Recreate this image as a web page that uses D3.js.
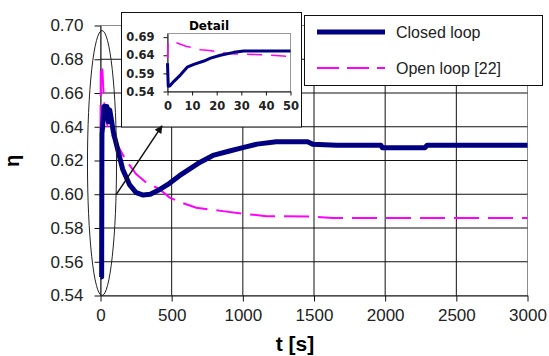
<!DOCTYPE html>
<html>
<head>
<meta charset="utf-8">
<script src="https://cdn.jsdelivr.net/npm/d3@7"></script>
<style>
body { margin: 0; background: #fff; }
svg { display: block; }
</style>
</head>
<body>
<svg id="chart" width="549" height="356"></svg>
<script>
const closedColor = '#000080';
const openColor = '#ff00ff';

// main chart: [t (s), eta]
const closedLoop = [[0,0.551],[8,0.551],[10,0.636],[15,0.640],[25,0.652],[45,0.652],[55,0.643],[65,0.650],[75,0.645],[90,0.637],
  [155,0.615],[205,0.6055],[250,0.601],[300,0.5995],[350,0.600],[420,0.603],[485,0.6065],[555,0.611],[700,0.619],[790,0.623],
  [900,0.6255],[1000,0.6276],[1100,0.6297],[1235,0.6311],[1455,0.6311],[1490,0.6297],[1660,0.6291],[1970,0.6291],[1980,0.6276],
  [2280,0.6276],[2295,0.6291],[3000,0.6291]];
const openLoop = [[0,0.638],[2,0.676],[12,0.676],[20,0.662],[30,0.650],[50,0.640],[100,0.632],[180,0.620],[250,0.612],[320,0.607],
  [415,0.603],[485,0.598],[570,0.595],[673,0.592],[860,0.590],[1000,0.5885],[1165,0.587],[1490,0.5868],[1630,0.586],[3000,0.586]];

// detail inset, first 50 s
const closedDetail = [[0,0.618],[0.3,0.5545],[1,0.556],[2.6,0.568],[5.3,0.586],[8,0.607],[10.7,0.615],[14.8,0.624],[17.5,0.632],
  [21.5,0.640],[27,0.648],[31,0.652],[50,0.652]];
const openDetail = [[0,0.632],[0.3,0.6755],[3.4,0.675],[7.5,0.665],[13.6,0.655],[17,0.653],[21.5,0.648],[25.6,0.644],[30,0.643],
  [40,0.641],[44,0.639],[50,0.636]];

const xTicks = [0, 500, 1000, 1500, 2000, 2500, 3000];
const yTicks = [0.54, 0.56, 0.58, 0.60, 0.62, 0.64, 0.66, 0.68, 0.70];
const detailXTicks = [0, 10, 20, 30, 40, 50];
const detailYTicks = [0.54, 0.59, 0.64, 0.69];
const legendLabels = ['Closed loop', 'Open loop [22]'];

const svg = d3.select('#chart');

const x = d3.scaleLinear().domain([0, 3000]).range([100.5, 527.5]);
const y = d3.scaleLinear().domain([0.54, 0.70]).range([295.5, 25.5]);

// plot area border
svg.append('rect')
    .attr('x', x(0)).attr('y', y(0.70))
    .attr('width', x(3000) - x(0)).attr('height', y(0.54) - y(0.70))
    .attr('fill', 'none').attr('stroke', '#8c8c8c');

// gridlines
svg.append('g').selectAll('line').data(yTicks.filter(d => d > 0.54 && d < 0.70)).join('line')
    .attr('x1', x(0)).attr('x2', x(3000))
    .attr('y1', d => y(d)).attr('y2', d => y(d))
    .attr('stroke', '#111');
svg.append('g').selectAll('line').data(xTicks.filter(d => d > 0 && d < 3000)).join('line')
    .attr('x1', d => x(d)).attr('x2', d => x(d))
    .attr('y1', y(0.70)).attr('y2', y(0.54))
    .attr('stroke', '#111');

// axes
const yAxis = svg.append('g').attr('transform', `translate(${x(0)},0)`)
    .call(d3.axisLeft(y).tickValues(yTicks).tickFormat(d3.format('.2f')).tickSize(6).tickSizeOuter(0).tickPadding(11));
const xAxis = svg.append('g').attr('transform', `translate(0,${y(0.54)})`)
    .call(d3.axisBottom(x).tickValues(xTicks).tickFormat(d3.format('d')).tickSize(6).tickSizeOuter(0).tickPadding(7));
[yAxis, xAxis].forEach(a => {
    a.selectAll('path, line').attr('stroke', '#111');
    a.selectAll('text').attr('font-family', 'Liberation Sans, Arial, sans-serif').attr('font-size', 17).attr('fill', '#222');
});

// axis titles
svg.append('text')
    .attr('transform', 'translate(18.5,161) rotate(-90)')
    .attr('text-anchor', 'middle')
    .attr('font-family', 'Liberation Sans, Arial, sans-serif')
    .attr('font-weight', 'bold').attr('font-size', 20)
    .text('η');
svg.append('text')
    .attr('x', 295).attr('y', 350.5)
    .attr('text-anchor', 'middle')
    .attr('font-family', 'Liberation Sans, Arial, sans-serif')
    .attr('font-weight', 'bold').attr('font-size', 21)
    .text('t [s]');

// series
const line = d3.line().x(d => x(d[0])).y(d => y(d[1]));
svg.append('path').datum(openLoop)
    .attr('d', line).attr('fill', 'none')
    .attr('stroke', openColor).attr('stroke-width', 2).attr('stroke-dasharray', '25,9');
svg.append('path').datum(closedLoop)
    .attr('d', line).attr('fill', 'none')
    .attr('stroke', closedColor).attr('stroke-width', 5).attr('stroke-linejoin', 'round');

// ellipse around the start
svg.append('ellipse')
    .attr('cx', x(10.5)).attr('cy', y(0.6185))
    .attr('rx', x(102) - x(0)).attr('ry', y(0.54) - y(0.6185))
    .attr('fill', 'none').attr('stroke', '#222').attr('stroke-width', 1);

// detail inset
const inset = svg.append('g');
inset.append('rect')
    .attr('x', 121.5).attr('y', 12.5).attr('width', 180).attr('height', 114.5)
    .attr('fill', '#fff').attr('stroke', '#111');

const ix = d3.scaleLinear().domain([0, 50]).range([167.5, 290.5]);
const iy = d3.scaleLinear().domain([0.54, 0.70]).range([91.5, 33.5]);

inset.append('rect')
    .attr('x', ix(0)).attr('y', iy(0.70))
    .attr('width', ix(50) - ix(0)).attr('height', iy(0.54) - iy(0.70))
    .attr('fill', 'none').attr('stroke', '#999');

const iyAxis = inset.append('g').attr('transform', `translate(${ix(0)},0)`)
    .call(d3.axisLeft(iy).tickValues(detailYTicks).tickFormat(d3.format('.2f')).tickSize(4).tickSizeOuter(0).tickPadding(9));
const ixAxis = inset.append('g').attr('transform', `translate(0,${iy(0.54)})`)
    .call(d3.axisBottom(ix).tickValues(detailXTicks).tickFormat(d3.format('d')).tickSize(4).tickSizeOuter(0).tickPadding(6));
[iyAxis, ixAxis].forEach(a => {
    a.selectAll('path, line').attr('stroke', '#111');
    a.selectAll('text').attr('font-family', 'DejaVu Sans, sans-serif').attr('font-weight', 'bold')
        .attr('font-size', 11.5).attr('fill', '#222');
});

inset.append('text')
    .attr('x', 209).attr('y', 30)
    .attr('text-anchor', 'middle')
    .attr('font-family', 'DejaVu Sans, sans-serif')
    .attr('font-weight', 'bold').attr('font-size', 12)
    .text('Detail');

const iline = d3.line().x(d => ix(d[0])).y(d => iy(d[1]));
inset.append('path').datum(openDetail)
    .attr('d', iline).attr('fill', 'none')
    .attr('stroke', openColor).attr('stroke-width', 1.5).attr('stroke-dasharray', '15,9');
inset.append('path').datum(closedDetail)
    .attr('d', iline).attr('fill', 'none')
    .attr('stroke', closedColor).attr('stroke-width', 3).attr('stroke-linejoin', 'round');

// arrow pointing at the inset
svg.append('defs').append('marker')
    .attr('id', 'head')
    .attr('viewBox', '0 0 10 10').attr('refX', 9).attr('refY', 5)
    .attr('markerWidth', 10).attr('markerHeight', 8)
    .attr('markerUnits', 'userSpaceOnUse')
    .attr('orient', 'auto')
  .append('path').attr('d', 'M0,0 L10,5 L0,10 Z').attr('fill', '#111');
svg.append('line')
    .attr('x1', x(110)).attr('y1', y(0.5998))
    .attr('x2', x(432)).attr('y2', y(0.6405))
    .attr('stroke', '#111').attr('stroke-width', 1.5)
    .attr('marker-end', 'url(#head)');

// legend
const legend = svg.append('g');
legend.append('rect')
    .attr('x', 304.5).attr('y', 15.5).attr('width', 238).attr('height', 70)
    .attr('fill', '#fff').attr('stroke', '#111');
const items = legend.selectAll('g.item').data(legendLabels).join('g')
    .attr('class', 'item')
    .attr('transform', (d, i) => `translate(0,${32 + i * 36})`);
items.append('line')
    .attr('x1', 317).attr('x2', 385)
    .attr('stroke', (d, i) => i === 0 ? closedColor : openColor)
    .attr('stroke-width', (d, i) => i === 0 ? 5 : 2)
    .attr('stroke-dasharray', (d, i) => i === 0 ? null : '22,8');
items.append('text')
    .attr('x', 396).attr('y', 6)
    .attr('font-family', 'Liberation Sans, Arial, sans-serif')
    .attr('font-size', 16).attr('fill', '#222')
    .text(d => d);
</script>
</body>
</html>
